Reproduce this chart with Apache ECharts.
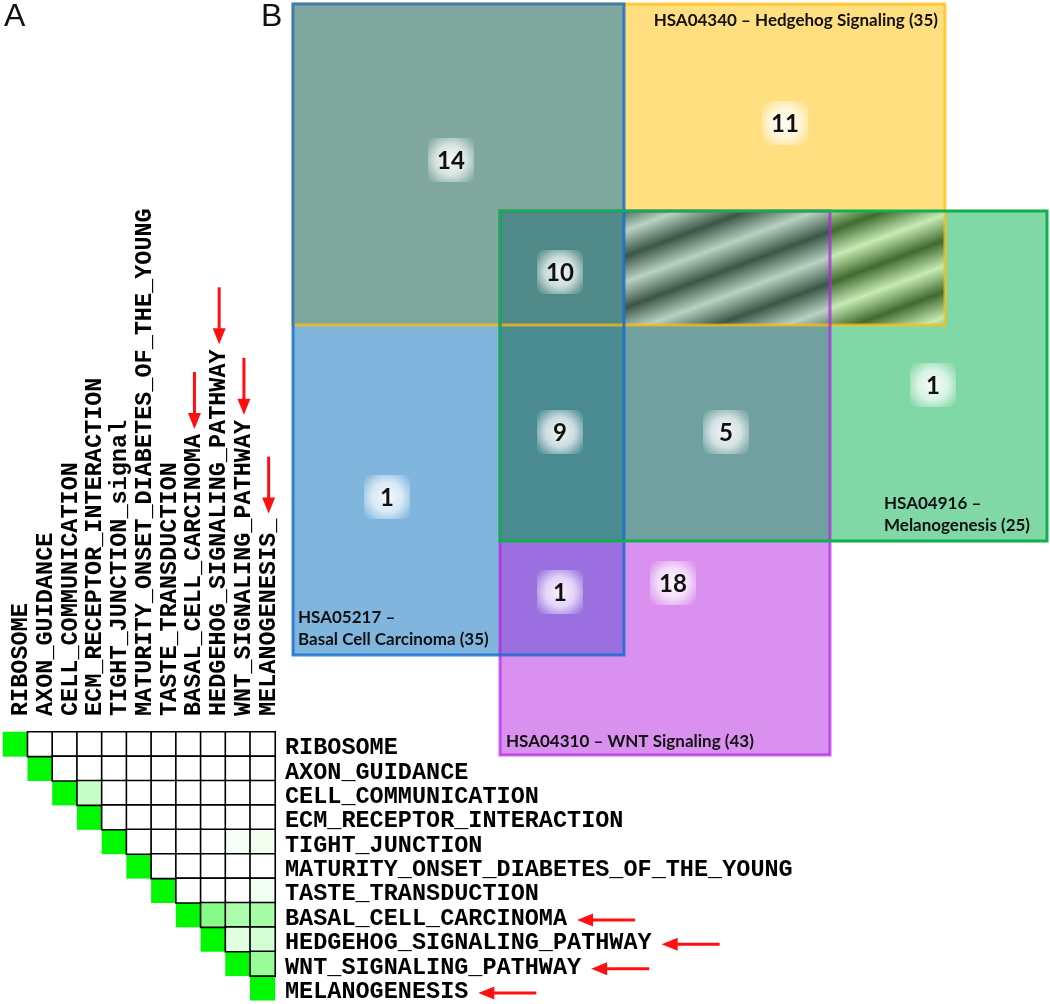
<!DOCTYPE html>
<html><head><meta charset="utf-8">
<script src="https://cdn.jsdelivr.net/npm/echarts@6/dist/echarts.min.js"></script>
<style>html,body{margin:0;padding:0;background:#fff}#c{width:1050px;height:1004px}</style>
</head><body><div id="c"></div>
<script>
// ---------- Panel A data ----------
const pathways = ['RIBOSOME','AXON_GUIDANCE','CELL_COMMUNICATION','ECM_RECEPTOR_INTERACTION','TIGHT_JUNCTION',
  'MATURITY_ONSET_DIABETES_OF_THE_YOUNG','TASTE_TRANSDUCTION','BASAL_CELL_CARCINOMA','HEDGEHOG_SIGNALING_PATHWAY',
  'WNT_SIGNALING_PATHWAY','MELANOGENESIS'];
const topLabels = ['RIBOSOME','AXON_GUIDANCE','CELL_COMMUNICATION','ECM_RECEPTOR_INTERACTION','TIGHT_JUNCTION_signal',
  'MATURITY_ONSET_DIABETES_OF_THE_YOUNG','TASTE_TRANSDUCTION','BASAL_CELL_CARCINOMA','HEDGEHOG_SIGNALING_PATHWAY',
  'WNT_SIGNALING_PATHWAY','MELANOGENESIS_'];
// upper triangle rows (row r holds columns r..10)
const similarityRows = [
  [1,0,0,0,0,0,0,0,0,0,0],
  [1,0,0,0,0,0,0,0,0,0],
  [1,0.22,0,0,0,0,0,0,0],
  [1,0,0,0,0,0,0,0],
  [1,0,0,0,0,0.04,0.06],
  [1,0,0,0,0,0],
  [1,0,0,0,0.05],
  [1,0.48,0.33,0.35],
  [1,0.12,0.16],
  [1,0.4],
  [1]
];
const highlighted = ['BASAL_CELL_CARCINOMA','HEDGEHOG_SIGNALING_PATHWAY','WNT_SIGNALING_PATHWAY','MELANOGENESIS'];

// ---------- Panel B data ----------
const vennXBounds = [0,207,331,537,652,754];
const vennYBounds = [0,207,321,537,651,751];
const setKeys = ['B','Y','G','P'];
const setNames = ['HSA05217 –\nBasal Cell Carcinoma (35)','HSA04340 – Hedgehog Signaling (35)',
  'HSA04916 –\nMelanogenesis (25)','HSA04310 – WNT Signaling (43)'];
const setColSpan = [[0,2],[0,4],[1,5],[1,3]];
const setRowSpan = [[0,4],[0,2],[1,3],[1,5]];
const regionSets   = ['BY','Y','BYGP','BGP','GP','G','B','BP','P'];
const regionCounts = [14, 11, 10, 9, 5, 1, 1, 1, 18];
const regionLabelAt = [[158,156],[492,119],[267,268],[267,428],[433,428],[640,381],[94,493],[267,588],[380,579]];

// ---------- styles ----------
const MONO = '"Liberation Mono", "Courier New", monospace';
const monoSize = 23.5;
const cellFill = {BY:'#80a89e', Y:'#ffdf80', B:'#80b6de', BYGP:'#4f8a88', BGP:'#4a8a91', GP:'#70a09f',
  G:'#80d8a6', BP:'#9b6fe0', P:'#da90ee'};
const stripeCols = {YGP:['#3b5646','#b9d1c3'], YG:['#3f6b2f','#c6ebb4']};
const setStroke = {B:['#1a6fcc',0.85], Y:['#ffbd10',0.75], G:['#10b04c',1], P:['#b41ee8',0.7]};
const labelLayout = {
  B:{x:5, y:647, align:'left', va:'bottom'},
  Y:{x:645, y:17, align:'right', va:'middle'},
  G:{x:591, y:533, align:'left', va:'bottom'},
  P:{x:213, y:738, align:'left', va:'middle'}
};
const monoRich = (shift) => ({
  s:{lineHeight:shift, fontSize:2},
  t:{fontFamily:MONO, fontWeight:'bold', fontSize:monoSize, lineHeight:26, color:'#000'}
});

// build heatmap data
const heatData = [];
similarityRows.forEach((row, r) => row.forEach((v, k) => {
  const c = r + k;
  if (c === r) heatData.push({value:[c, r, v], itemStyle:{borderWidth:0}});
}));
similarityRows.forEach((row, r) => row.forEach((v, k) => {
  const c = r + k;
  if (c !== r) heatData.push({value:[c, r, v]});
}));

// build venn cells
const cells = [];
for (let r = 0; r < 5; r++) for (let c = 0; c < 5; c++) {
  let key = '';
  setKeys.forEach((s, i) => {
    if (c >= setColSpan[i][0] && c < setColSpan[i][1] && r >= setRowSpan[i][0] && r < setRowSpan[i][1]) key += s;
  });
  if (key) cells.push({key, v:[vennXBounds[c], vennYBounds[r], vennXBounds[c+1], vennYBounds[r+1]]});
}
const stripeOrigin = [vennXBounds[2], vennYBounds[1]];

function rectFrom(api, a, b) {
  const p0 = api.coord(a), p1 = api.coord(b);
  return {x:Math.min(p0[0],p1[0]), y:Math.min(p0[1],p1[1]), width:Math.abs(p1[0]-p0[0]), height:Math.abs(p1[1]-p0[1])};
}
function stripeGradient(api, cols) {
  const o = api.coord(stripeOrigin);
  const period = 48, n = 6;
  const nx = 0.35, ny = 0.94;
  const stops = [];
  for (let i = 0; i <= n * 2; i++) stops.push({offset:i/(2*n), color: i % 2 === 0 ? cols[0] : cols[1]});
  return {type:'linear', global:true, x:o[0]-4, y:o[1]-4, x2:o[0]-4+nx*period*n, y2:o[1]-4+ny*period*n, colorStops:stops};
}

const chart = echarts.init(document.getElementById('c'), null, {renderer:'canvas'});
const option = {
  animation:false,
  backgroundColor:'#fff',
  grid:[
    {left:3, top:732, width:272, height:270},
    {left:293, top:4, width:754, height:751}
  ],
  xAxis:[
    {type:'category', gridIndex:0, position:'top', data:topLabels,
      axisLine:{show:false}, axisTick:{show:false}, splitLine:{show:false},
      axisLabel:{interval:0, rotate:-90, margin:16, color:'#000', fontFamily:MONO, fontWeight:'bold', fontSize:monoSize,
        formatter: v => '{s|}\n{t|' + v + '}', rich:monoRich(12)}},
    {type:'value', gridIndex:1, min:0, max:754, show:false}
  ],
  yAxis:[
    {type:'category', gridIndex:0, position:'right', inverse:true, data:pathways,
      axisLine:{show:false}, axisTick:{show:false}, splitLine:{show:false},
      axisLabel:{interval:0, margin:10, color:'#000', fontFamily:MONO, fontWeight:'bold', fontSize:monoSize,
        formatter: v => '{s|}\n{t|' + v + '}', rich:monoRich(8)}},
    {type:'value', gridIndex:1, min:0, max:751, inverse:true, show:false}
  ],
  visualMap:{show:false, seriesIndex:0, min:0, max:1, dimension:2, inRange:{color:['#ffffff','#00f800']}},
  series:[
    {type:'heatmap', xAxisIndex:0, yAxisIndex:0, data:heatData,
      itemStyle:{borderColor:'#000', borderWidth:1.6}, emphasis:{disabled:true}},
    {type:'custom', xAxisIndex:1, yAxisIndex:1, z:1, encode:{x:[0,2], y:[1,3]},
      data:cells.map(c => c.v),
      renderItem:(params, api) => {
        const c = cells[params.dataIndex];
        const shape = rectFrom(api, [api.value(0), api.value(1)], [api.value(2), api.value(3)]);
        const fill = stripeCols[c.key] ? stripeGradient(api, stripeCols[c.key]) : cellFill[c.key];
        return {type:'rect', shape, style:{fill}};
      }},
    {type:'custom', xAxisIndex:1, yAxisIndex:1, z:2, encode:{x:[0,2], y:[1,3]},
      data:[1,3,0,2].map(i => [vennXBounds[setColSpan[i][0]], vennYBounds[setRowSpan[i][0]], vennXBounds[setColSpan[i][1]], vennYBounds[setRowSpan[i][1]], i]),
      renderItem:(params, api) => {
        const k = setKeys[api.value(4)];
        const shape = rectFrom(api, [api.value(0), api.value(1)], [api.value(2), api.value(3)]);
        return {type:'rect', shape, style:{fill:'none', stroke:setStroke[k][0], lineWidth:3, opacity:setStroke[k][1]}};
      }},
    {type:'custom', xAxisIndex:1, yAxisIndex:1, z:3, encode:{x:0, y:1},
      data:setKeys.map((k, i) => [labelLayout[k].x, labelLayout[k].y, i]),
      renderItem:(params, api) => {
        const i = api.value(2), k = setKeys[i];
        const p = api.coord([api.value(0), api.value(1)]);
        return {type:'text', style:{text:setNames[i], x:p[0], y:p[1], align:labelLayout[k].align,
          verticalAlign:labelLayout[k].va, font:'bold 17px Lato, "Open Sans", sans-serif', fill:'#111', lineHeight:22}};
      }},
    {type:'custom', xAxisIndex:1, yAxisIndex:1, z:4, encode:{x:0, y:1},
      data:regionCounts.map((n, i) => [regionLabelAt[i][0], regionLabelAt[i][1], n]),
      renderItem:(params, api) => {
        const p = api.coord([api.value(0), api.value(1)]);
        const w = 46, h = 44;
        return {type:'group', children:[
          {type:'rect', shape:{x:p[0]-w/2, y:p[1]-h/2, width:w, height:h, r:7},
            style:{fill:{type:'radial', x:0.5, y:0.5, r:0.62, colorStops:[
              {offset:0, color:'rgba(255,255,255,0.92)'},{offset:0.55, color:'rgba(255,255,255,0.7)'},
              {offset:1, color:'rgba(255,255,255,0.12)'}]}}},
          {type:'text', style:{text:String(api.value(2)), x:p[0], y:p[1]+1, align:'center', verticalAlign:'middle',
            font:'bold 24px Lato, "Open Sans", sans-serif', fill:'#111'}}
        ]};
      }}
  ]
};
chart.setOption(option);

// annotations: panel letters and red arrows pointing at highlighted pathways
const ctx = document.createElement('canvas').getContext('2d');
ctx.font = 'bold ' + monoSize + 'px ' + MONO;
const graphics = [
  {type:'text', left:4, top:1, style:{text:'A', font:'32px "Liberation Sans", Arial, sans-serif', fill:'#111'}},
  {type:'text', left:261, top:1, style:{text:'B', font:'32px "Liberation Sans", Arial, sans-serif', fill:'#111'}}
];
const RED = '#ff1010';
function arrow(x1, y1, x2, y2) { // tail (x1,y1) -> tip (x2,y2)
  const dx = x2 - x1, dy = y2 - y1, L = Math.hypot(dx, dy), ux = dx / L, uy = dy / L;
  const hl = 16, hw = 6.5;
  const bx = x2 - ux * hl, by = y2 - uy * hl;
  graphics.push({type:'line', z:50, shape:{x1, y1, x2:bx+ux*2, y2:by+uy*2}, style:{stroke:RED, lineWidth:3}});
  graphics.push({type:'polygon', z:50, shape:{points:[[x2,y2],[bx-uy*hw, by+ux*hw],[bx+uy*hw, by-ux*hw]]}, style:{fill:RED}});
}
const gridTop = 732, gridRight = 3 + 272;
highlighted.forEach(name => {
  const idx = pathways.indexOf(name);
  const xPix = chart.convertToPixel({xAxisIndex:0}, idx);
  const yPix = chart.convertToPixel({yAxisIndex:0}, idx);
  const wTop = ctx.measureText(topLabels[idx]).width;
  const topEnd = gridTop - 16 - wTop;
  arrow(xPix + 6, topEnd - 62, xPix + 6, topEnd - 5);
  const wRight = ctx.measureText(pathways[idx]).width;
  const rightEnd = gridRight + 10 + wRight;
  arrow(rightEnd + 68, yPix + 5, rightEnd + 10, yPix + 5);
});
chart.setOption({graphic:graphics});
</script>
</body></html>
